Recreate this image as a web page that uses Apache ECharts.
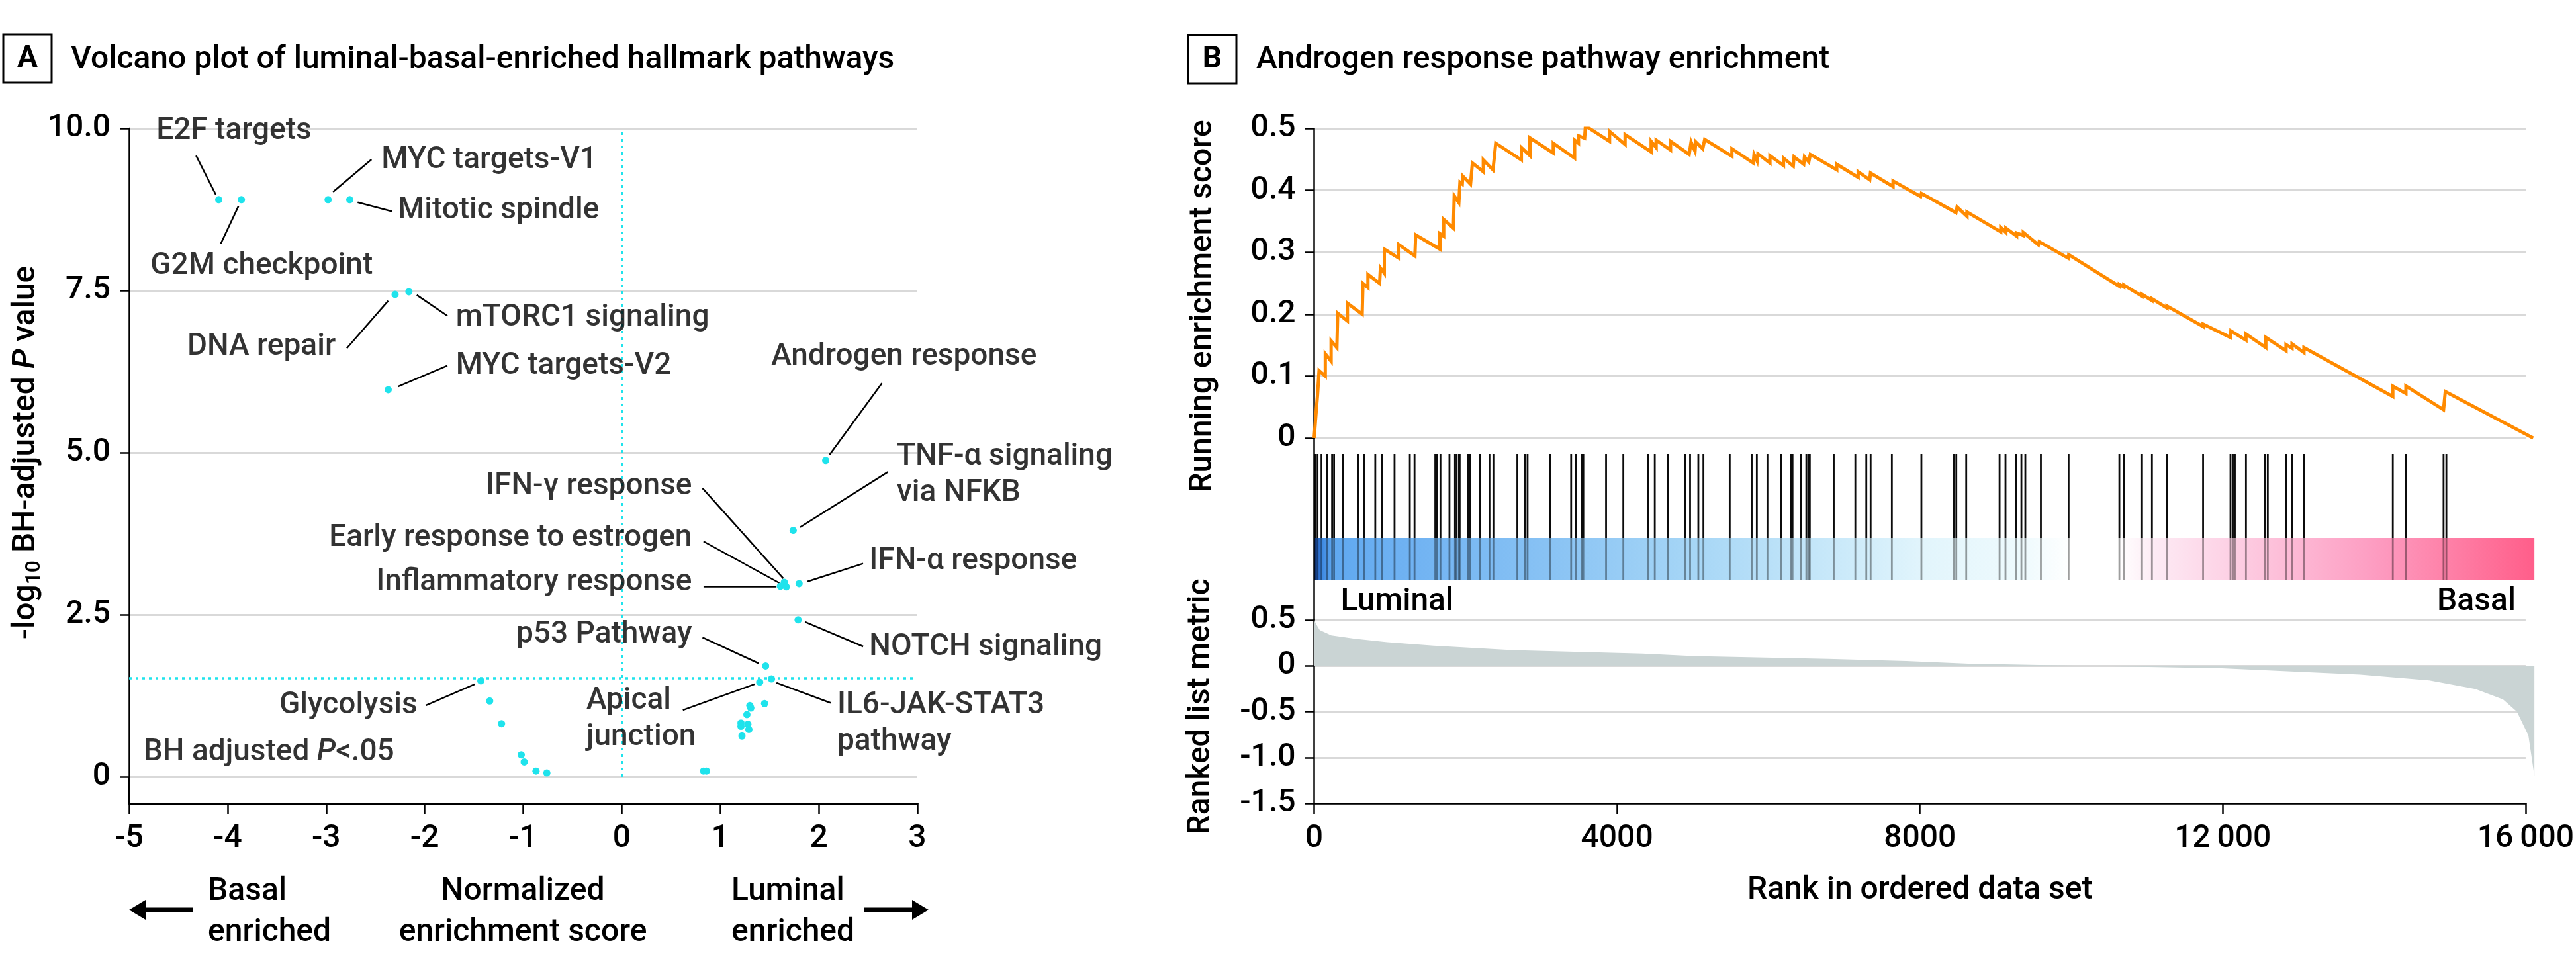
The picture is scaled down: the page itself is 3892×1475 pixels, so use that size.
<!DOCTYPE html>
<html><head><meta charset="utf-8">
<script src="https://cdn.jsdelivr.net/npm/echarts@6/dist/echarts.min.js"></script>
<style>html,body{margin:0;padding:0;background:#fff}#c{width:3892px;height:1475px}</style>
</head><body><div id="c"></div>
<script>
// ---------- Panel A data ----------
const pathwayNames = ['E2F targets','G2M checkpoint','MYC targets-V1','Mitotic spindle','DNA repair','mTORC1 signaling','MYC targets-V2','Glycolysis',
  '','','','','','',
  'Androgen response','TNF-α signaling via NFKB','IFN-γ response','Early response to estrogen','Inflammatory response','IFN-α response','NOTCH signaling','p53 Pathway','IL6-JAK-STAT3 pathway','Apical junction',
  '','','','','','','','','','',''];
const nesValues = [-4.09,-3.86,-2.98,-2.76,-2.30,-2.16,-2.37,-1.43,
  -1.34,-1.22,-1.02,-0.99,-0.87,-0.76,
  2.07,1.74,1.65,1.61,1.67,1.80,1.79,1.46,1.52,1.40,
  0.83,0.86,1.45,1.30,1.31,1.27,1.21,1.28,1.21,1.29,1.22];
const negLog10P = [8.90,8.90,8.90,8.90,7.44,7.48,5.97,1.48,
  1.17,0.82,0.34,0.23,0.09,0.06,
  4.88,3.80,3.00,2.94,2.93,2.98,2.42,1.71,1.51,1.46,
  0.09,0.09,1.13,1.10,1.06,0.96,0.83,0.81,0.78,0.73,0.63];
const sigThreshold = 1.52;
const volcanoYTicks = ['0','2.5','5.0','7.5','10.0'];

// ---------- Panel B data ----------
const hitRanks = [14,45,97,170,237,263,382,584,662,807,895,1061,1263,1325,1599,1620,1667,1786,1859,1879,1910,1921,2029,2055,2190,2314,2366,2682,2786,2817,3117,3392,3454,3537,3553,3853,4081,4407,4496,4672,4900,4962,5071,5138,5485,5775,5843,5983,6164,6294,6314,6428,6496,6522,6542,6858,7143,7288,7345,7625,8015,8445,8476,8607,9047,9125,9262,9335,9387,9592,9958,10628,10686,10927,11058,11257,11733,12095,12126,12152,12299,12550,12587,12828,12907,13064,14237,14410,14907,14944];
const esRanks = [0,25,45,65,147,147,224,224,300,311,439,439,634,644,710,710,864,875,926,926,1110,1110,1330,1340,1660,1660,1710,1710,1838,1849,1910,1925,1955,1961,2064,2089,2233,2233,2361,2397,2735,2735,2848,2848,3156,3156,3438,3438,3489,3489,3570,3581,3899,3899,4104,4104,4448,4448,4514,4514,4704,4704,4950,4975,5027,5037,5129,5155,5514,5514,5796,5806,5847,5857,6016,6016,6195,6195,6324,6334,6462,6472,6529,6549,6898,6898,7180,7180,7333,7343,7641,7641,8005,8015,8471,8486,8617,8617,9063,9063,9130,9130,9272,9272,9360,9360,9560,9570,9953,9960,10628,10628,10686,10686,10927,10927,11058,11058,11257,11257,11733,11733,12095,12100,12299,12299,12561,12561,12828,12828,12907,12907,13064,13064,14237,14237,14410,14410,14907,14930,16090];
const esValues = [0,0.04,0.07,0.109,0.100,0.136,0.124,0.157,0.146,0.2016,0.189,0.2176,0.200,0.2497,0.243,0.264,0.2497,0.2746,0.266,0.305,0.291,0.313,0.294,0.328,0.305,0.330,0.326,0.353,0.339,0.391,0.380,0.413,0.410,0.423,0.410,0.444,0.430,0.449,0.433,0.476,0.449,0.469,0.456,0.4847,0.460,0.476,0.452,0.481,0.476,0.488,0.484,0.504,0.479,0.495,0.474,0.490,0.462,0.479,0.469,0.481,0.465,0.479,0.458,0.478,0.463,0.478,0.467,0.482,0.455,0.467,0.444,0.458,0.447,0.459,0.444,0.456,0.440,0.452,0.439,0.454,0.442,0.454,0.446,0.458,0.433,0.442,0.421,0.430,0.417,0.428,0.406,0.415,0.390,0.395,0.364,0.373,0.358,0.365,0.333,0.340,0.332,0.339,0.326,0.331,0.327,0.332,0.312,0.317,0.2905,0.296,0.245,0.248,0.244,0.247,0.229,0.232,0.222,0.225,0.210,0.213,0.180,0.184,0.1624,0.173,0.158,0.168,0.146,0.1625,0.141,0.151,0.145,0.152,0.138,0.146,0.067,0.0839,0.072,0.084,0.0456,0.075,0.0];
const metricRanks = [0,30,74,227,534,963,1575,2617,4333,5007,6784,7814,8636,10157,11981,13806,14719,15327,15692,15875,16027,16106];
const metricValues = [0.50,0.45,0.39,0.333,0.296,0.258,0.220,0.171,0.133,0.107,0.076,0.053,0.024,0.0,-0.027,-0.095,-0.159,-0.253,-0.367,-0.50,-0.76,-1.2];
const totalGenes = 16106;
const rankAxisMax = 16000;

// ---------- annotation layout (positions, not data) ----------
const labelLayout = [
 {text:'E2F targets', at:[-4.72,9.95], align:'left', line:[[-4.32,9.58],[-4.12,8.98]]},
 {text:'G2M checkpoint', at:[-4.78,7.87], align:'left', line:[[-3.89,8.80],[-4.07,8.22]]},
 {text:'MYC targets-V1', at:[-2.435,9.50], align:'left', line:[[-2.54,9.52],[-2.93,9.02]]},
 {text:'Mitotic spindle', at:[-2.27,8.72], align:'left', line:[[-2.33,8.72],[-2.68,8.86]]},
 {text:'mTORC1 signaling', at:[-1.68,7.07], align:'left', line:[[-1.77,7.11],[-2.08,7.43]]},
 {text:'DNA repair', at:[-2.90,6.62], align:'right', line:[[-2.79,6.61],[-2.37,7.34]]},
 {text:'MYC targets-V2', at:[-1.68,6.33], align:'left', line:[[-1.77,6.34],[-2.27,6.02]]},
 {text:'Glycolysis', at:[-2.07,1.09], align:'right', line:[[-1.99,1.10],[-1.49,1.43]]},
 {text:'Apical\njunction', at:[-0.356,0.878], align:'left', line:[[0.62,1.03],[1.35,1.43]]},
 {text:'IFN-γ response', at:[0.716,4.47], align:'right', line:[[0.82,4.45],[1.64,3.06]]},
 {text:'Early response to estrogen', at:[0.716,3.67], align:'right', line:[[0.83,3.63],[1.60,2.99]]},
 {text:'Inflammatory response', at:[0.716,2.99], align:'right', line:[[0.83,2.94],[1.57,2.94]]},
 {text:'p53 Pathway', at:[0.716,2.18], align:'right', line:[[0.82,2.15],[1.39,1.75]]},
 {text:'Androgen response', at:[1.52,6.47], align:'left', line:[[2.64,6.07],[2.11,4.97]]},
 {text:'TNF-α signaling\nvia NFKB', at:[2.795,4.65], align:'left', line:[[2.70,4.70],[1.81,3.85]]},
 {text:'IFN-α response', at:[2.515,3.32], align:'left', line:[[2.45,3.29],[1.88,3.01]]},
 {text:'NOTCH signaling', at:[2.515,1.99], align:'left', line:[[2.45,2.01],[1.86,2.39]]},
 {text:'IL6-JAK-STAT3\npathway', at:[2.19,0.816], align:'left', line:[[2.12,1.14],[1.57,1.45]]},
 {text:'{n|BH adjusted }{i|P}{n|<.05}', at:[-4.85,0.37], align:'left', line:null}
];

const FONT = 'Roboto';
const FW = 500;
const TXT = '#000';
const GRID = '#d9d9d9';
const CYAN = '#1fe3ec';
const barFrac = 64/191;
const B_LEFT = 1985.5, B_W = 1831.5;            // width for 0..16000
const B_WIDE = B_W * totalGenes / rankAxisMax;   // width for 0..totalGenes

const chart = echarts.init(document.getElementById('c'), null, {renderer:'canvas'});
const fmt1 = v => v === 0 ? '0' : v.toFixed(1);
const hidden = {show:false};
const lbl = {fontSize:48, color:TXT, fontFamily:FONT, fontWeight:FW};
const gtxt = (o) => Object.assign({fontSize:48, fontFamily:FONT, fontWeight:FW, fill:TXT}, o);

const option = {
  backgroundColor:'#fff',
  animation:false,
  textStyle:{fontFamily:FONT, color:TXT, fontWeight:FW},
  grid:[
    {left:195, top:194, width:1191, height:980},          // 0 volcano
    {left:B_LEFT, top:194, width:B_W, height:468},        // 1 ES axes
    {left:B_LEFT, top:194, width:B_WIDE, height:468},     // 2 ES data
    {left:B_LEFT, top:686, width:B_WIDE, height:191},     // 3 hits
    {left:B_LEFT, top:937, width:B_W, height:277},        // 4 metric axes
    {left:B_LEFT, top:937, width:B_WIDE, height:277}      // 5 metric data
  ],
  xAxis:[
    {gridIndex:0, type:'value', min:-5, max:3, interval:1, offset:40,
     axisLine:{onZero:false, lineStyle:{color:'#000', width:3}}, axisTick:{length:16, lineStyle:{color:'#000', width:2.5}},
     axisLabel:Object.assign({margin:30}, lbl), splitLine:hidden},
    {gridIndex:1, type:'value', min:0, max:rankAxisMax, show:false},
    {gridIndex:2, type:'value', min:0, max:totalGenes, show:false},
    {gridIndex:3, type:'value', min:0, max:totalGenes, show:false},
    {gridIndex:4, type:'value', min:0, max:rankAxisMax, interval:4000,
     axisLine:{onZero:false, lineStyle:{color:'#000', width:2.5}}, axisTick:{length:16, lineStyle:{color:'#000', width:2.5}},
     axisLabel:Object.assign({margin:30,
       formatter: v => v >= 10000 ? String(v).replace(/(\d+)(\d{3})$/, '$1\u2009$2') : String(v)}, lbl),
     splitLine:hidden,
     name:'Rank in ordered data set', nameLocation:'middle', nameGap:108,
     nameTextStyle:{fontSize:48, color:TXT, fontFamily:FONT, fontWeight:FW}},
    {gridIndex:5, type:'value', min:0, max:totalGenes, show:false}
  ],
  yAxis:[
    {gridIndex:0, type:'value', min:0, max:10, interval:2.5,
     axisLine:{show:true, onZero:false, lineStyle:{color:'#000', width:2.5}}, axisTick:{show:true, length:14, lineStyle:{color:'#000', width:2.5}},
     axisLabel:Object.assign({margin:28, formatter:(v)=>volcanoYTicks[Math.round(v/2.5)]}, lbl),
     splitLine:{show:true, lineStyle:{color:GRID, width:3}}},
    {gridIndex:1, type:'value', min:0, max:0.5, interval:0.1,
     axisLine:{show:true, onZero:false, lineStyle:{color:'#000', width:2.5}}, axisTick:{show:true, length:14, lineStyle:{color:'#000', width:2.5}},
     axisLabel:Object.assign({margin:28, formatter:fmt1}, lbl),
     splitLine:{show:true, lineStyle:{color:GRID, width:3}}},
    {gridIndex:2, type:'value', min:0, max:0.5, show:false},
    {gridIndex:3, type:'value', min:0, max:1, show:false},
    {gridIndex:4, type:'value', min:-1.5, max:0.5, interval:0.5,
     axisLine:{show:true, onZero:false, lineStyle:{color:'#000', width:2.5}}, axisTick:{show:true, length:14, lineStyle:{color:'#000', width:2.5}},
     axisLabel:Object.assign({margin:28, formatter:fmt1}, lbl),
     splitLine:{show:true, lineStyle:{color:GRID, width:3}}},
    {gridIndex:5, type:'value', min:-1.5, max:0.5, show:false}
  ],
  series:[
    // leader lines
    {type:'lines', coordinateSystem:'cartesian2d', xAxisIndex:0, yAxisIndex:0, silent:true, z:3,
     lineStyle:{color:'#000', width:2.5, opacity:1},
     data: labelLayout.filter(l=>l.line).map(l=>({coords:l.line}))},
    // volcano points
    {type:'scatter', xAxisIndex:0, yAxisIndex:0, symbolSize:11, z:5,
     itemStyle:{color:CYAN, opacity:1},
     data: nesValues.map((x,i)=>({name:pathwayNames[i], value:[x, negLog10P[i]]})),
     markLine:{silent:true, symbol:['none','none'], label:{show:false},
       lineStyle:{color:CYAN, width:3.5, type:[4,6]},
       data:[{xAxis:0},{yAxis:sigThreshold}]}},
    // text labels
    {type:'scatter', xAxisIndex:0, yAxisIndex:0, symbolSize:1, silent:true, z:6,
     itemStyle:{color:'transparent'},
     data: labelLayout.map(l=>({value:l.at, label:{align:l.align}})),
     label:{show:true, position:[0,0], verticalAlign:'middle', fontSize:46, lineHeight:55, color:TXT, fontFamily:FONT, fontWeight:FW,
       formatter: p => labelLayout[p.dataIndex].text,
       rich:{n:{fontSize:46, color:TXT, fontFamily:FONT, fontWeight:FW}, i:{fontSize:46, color:TXT, fontFamily:FONT, fontWeight:FW, fontStyle:'italic'}}}},
    // running enrichment score
    {type:'line', xAxisIndex:2, yAxisIndex:2, symbol:'none', z:4,
     lineStyle:{color:'#ff8a00', width:5, join:'miter'},
     data: esRanks.map((r,i)=>[r, esValues[i]])},
    // color bar
    {type:'custom', xAxisIndex:3, yAxisIndex:3, silent:true, z:2,
     data:[[0, totalGenes]], encode:{x:[0,1]},
     renderItem:(params, api)=>{
       const x0 = api.coord([api.value(0),0])[0];
       const x1 = api.coord([api.value(1),0])[0];
       const yMid = api.coord([0,barFrac])[1], yBot = api.coord([0,0])[1];
       return {type:'rect', shape:{x:x0, y:yMid, width:x1-x0, height:yBot-yMid},
         style:{fill:new echarts.graphic.LinearGradient(0,0,1,0,[
           {offset:0,color:'#1245a8'},{offset:0.006,color:'#3b86e0'},{offset:0.015,color:'#5fa8f0'},
           {offset:0.06,color:'#6cb0f2'},{offset:0.19,color:'#88c2f4'},{offset:0.31,color:'#a6d6f6'},
           {offset:0.44,color:'#cdebfa'},{offset:0.5,color:'#e2f5fc'},{offset:0.58,color:'#eefafd'},
           {offset:0.62,color:'#ffffff'},{offset:0.66,color:'#ffffff'},{offset:0.69,color:'#fdeaf4'},
           {offset:0.745,color:'#fdd3e6'},{offset:0.81,color:'#fdb6d3'},{offset:0.87,color:'#fd9cc1'},
           {offset:0.93,color:'#fe80a7'},{offset:1,color:'#ff5e8a'}])}};
     }},
    // hits
    {type:'custom', xAxisIndex:3, yAxisIndex:3, silent:true, z:3,
     data: hitRanks.map(r=>[r, 0]), encode:{x:0, y:1},
     renderItem:(params, api)=>{
       const x = api.coord([api.value(0),0])[0];
       const yTop = api.coord([0,1])[1], yMid = api.coord([0,barFrac])[1], yBot = api.coord([0,0])[1];
       return {type:'group', children:[
         {type:'line', shape:{x1:x,y1:yTop,x2:x,y2:yMid}, style:{stroke:'#0b0b0b', lineWidth:2.8}},
         {type:'line', shape:{x1:x,y1:yMid,x2:x,y2:yBot}, style:{stroke:'rgba(0,0,0,0.38)', lineWidth:2.8}}
       ]};
     }},
    // ranked list metric
    {type:'line', xAxisIndex:5, yAxisIndex:5, symbol:'none', z:2,
     lineStyle:{width:0, color:'#cad4d4'}, areaStyle:{color:'#cad4d4', opacity:1},
     data: metricRanks.map((r,i)=>[r, metricValues[i]])}
  ],
  graphic:[
    // axis line extensions
    {type:'line', shape:{x1:195, y1:1174, x2:195, y2:1215}, style:{stroke:'#000', lineWidth:2.5}, z:10},
    {type:'line', shape:{x1:B_LEFT, y1:662, x2:B_LEFT, y2:937}, style:{stroke:'#000', lineWidth:2.5}, z:10},
    // panel labels
    {type:'rect', shape:{x:5, y:52, width:73, height:73}, style:{fill:'none', stroke:'#000', lineWidth:3}},
    {type:'text', x:41.5, y:89, style:gtxt({text:'A', fontSize:46, fontWeight:'bold', align:'center', verticalAlign:'middle'})},
    {type:'text', x:107, y:91, style:gtxt({text:'Volcano plot of luminal-basal-enriched hallmark pathways', align:'left', verticalAlign:'middle'})},
    {type:'rect', shape:{x:1795, y:53, width:73, height:73}, style:{fill:'none', stroke:'#000', lineWidth:3}},
    {type:'text', x:1831.5, y:90, style:gtxt({text:'B', fontSize:46, fontWeight:'bold', align:'center', verticalAlign:'middle'})},
    {type:'text', x:1898, y:91, style:gtxt({text:'Androgen response pathway enrichment', align:'left', verticalAlign:'middle'})},
    // y axis names
    {type:'text', x:40, y:684, rotation:Math.PI/2, style:{text:'{n|-log}{s|10}{n| BH-adjusted }{i|P}{n| value}', align:'center', verticalAlign:'middle', fill:TXT,
      rich:{n:{fontSize:48, fontFamily:FONT, fontWeight:FW, fill:TXT, lineHeight:56}, s:{fontSize:32, fontFamily:FONT, fontWeight:FW, fill:TXT, verticalAlign:'bottom', lineHeight:56, padding:[14,0,0,0]}, i:{fontSize:48, fontFamily:FONT, fontWeight:FW, fill:TXT, fontStyle:'italic', lineHeight:56}}}},
    {type:'text', x:1818, y:463, rotation:Math.PI/2, style:gtxt({text:'Running enrichment score', align:'center', verticalAlign:'middle'})},
    {type:'text', x:1815, y:1068, rotation:Math.PI/2, style:gtxt({text:'Ranked list metric', align:'center', verticalAlign:'middle'})},
    // B side labels
    {type:'text', x:2025.5, y:910, style:gtxt({text:'Luminal', align:'left', verticalAlign:'middle'})},
    {type:'text', x:3801, y:910, style:gtxt({text:'Basal', align:'right', verticalAlign:'middle'})},
    // A bottom explanatory text and arrows
    {type:'text', x:314, y:1379, style:gtxt({text:'Basal\nenriched', lineHeight:62, align:'left', verticalAlign:'middle'})},
    {type:'text', x:790, y:1379, style:gtxt({text:'Normalized\nenrichment score', lineHeight:62, align:'center', verticalAlign:'middle'})},
    {type:'text', x:1105, y:1379, style:gtxt({text:'Luminal\nenriched', lineHeight:62, align:'left', verticalAlign:'middle'})},
    {type:'line', shape:{x1:292, y1:1375, x2:212, y2:1375}, style:{stroke:'#000', lineWidth:7}},
    {type:'polygon', shape:{points:[[195,1375],[220,1360],[220,1390]]}, style:{fill:'#000'}},
    {type:'line', shape:{x1:1306, y1:1375, x2:1386, y2:1375}, style:{stroke:'#000', lineWidth:7}},
    {type:'polygon', shape:{points:[[1403,1375],[1378,1360],[1378,1390]]}, style:{fill:'#000'}}
  ]
};
chart.setOption(option);
</script>
</body></html>
